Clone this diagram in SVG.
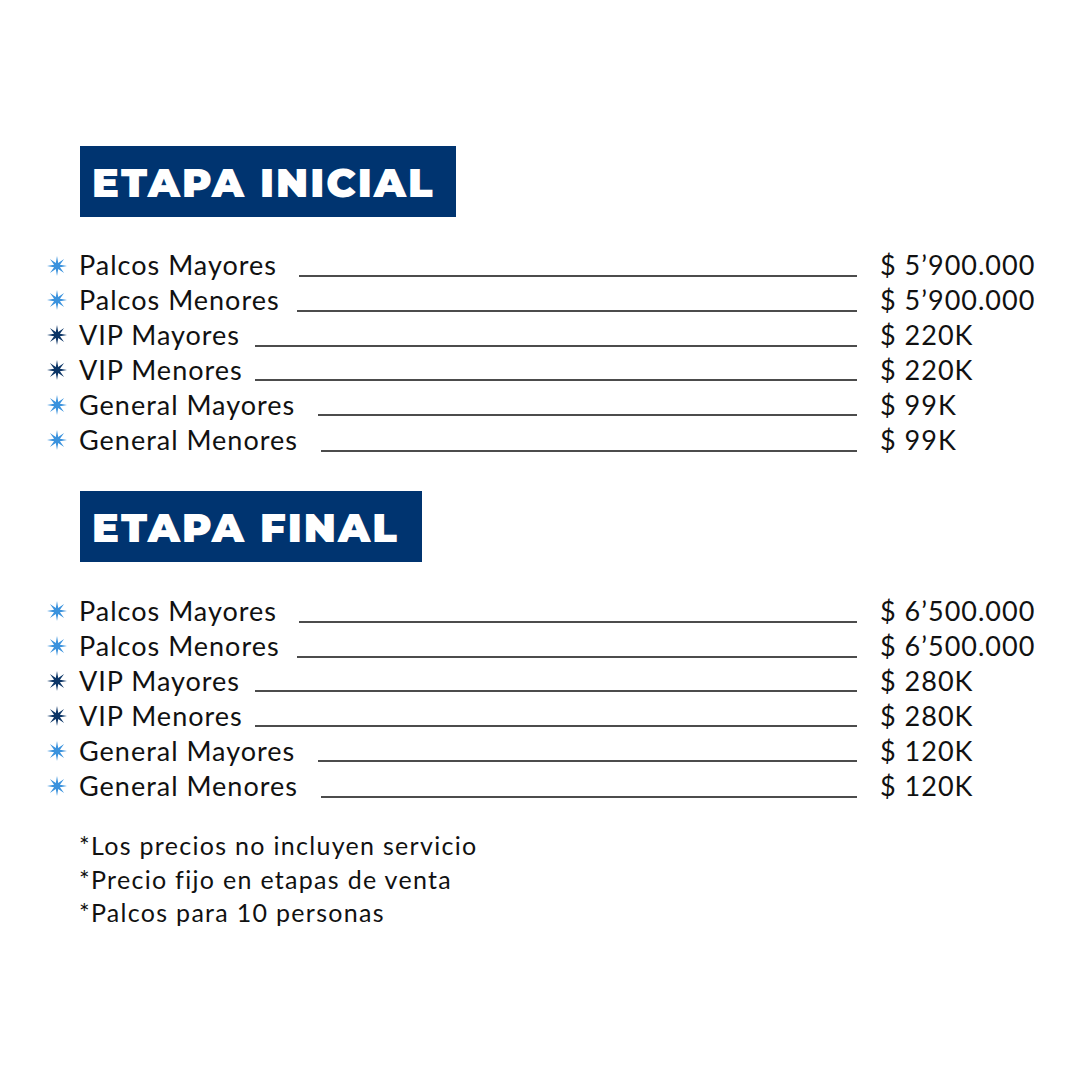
<svg xmlns="http://www.w3.org/2000/svg" xmlns:xlink="http://www.w3.org/1999/xlink" width="1080" height="1080" viewBox="0 0 1080 1080">
<style>
.t{font-family:"Lato","Liberation Sans",sans-serif;font-size:27px;letter-spacing:1px;fill:#111}
.h{font-family:"Montserrat","Lato","Liberation Sans",sans-serif;font-weight:900;font-size:40px;letter-spacing:2px;fill:#fff}
.n{font-family:"Lato","Liberation Sans",sans-serif;font-size:25px;letter-spacing:1.3px;fill:#111}
.l{stroke:#111;stroke-width:1.3}
.lb{fill:#3a92dd}.db{fill:#0c3566}
</style>
<defs>
<polygon id="s" points="0,-10 1.2,-2.9 7.1,-7.1 2.9,-1.2 10,0 2.9,1.2 7.1,7.1 1.2,2.9 0,10 -1.2,2.9 -7.1,7.1 -2.9,1.2 -10,0 -2.9,-1.2 -7.1,-7.1 -1.2,-2.9"/>
</defs>
<rect width="1080" height="1080" fill="#fff"/>
<g id="h1"><rect x="80" y="146" width="376" height="71" fill="#003470"/><text class="h" x="92" y="197">ETAPA INICIAL</text></g>
<g id="h2"><rect x="80" y="491" width="342" height="71" fill="#003470"/><text class="h" x="92" y="542">ETAPA FINAL</text></g>
<g id="rows1">
<use href="#s" x="57" y="266" class="lb"/><text class="t" x="79" y="275">Palcos Mayores</text><line class="l" x1="299" y1="276" x2="857" y2="276"/><text class="t" x="880" y="275">$ 5’900.000</text>
<use href="#s" x="57" y="300" class="lb"/><text class="t" x="79" y="310">Palcos Menores</text><line class="l" x1="297" y1="311" x2="857" y2="311"/><text class="t" x="880" y="310">$ 5’900.000</text>
<use href="#s" x="57" y="335" class="db"/><text class="t" x="79" y="345">VIP Mayores</text><line class="l" x1="255" y1="346" x2="857" y2="346"/><text class="t" x="880" y="345">$ 220K</text>
<use href="#s" x="57" y="370" class="db"/><text class="t" x="79" y="380">VIP Menores</text><line class="l" x1="255" y1="380" x2="857" y2="380"/><text class="t" x="880" y="380">$ 220K</text>
<use href="#s" x="57" y="405" class="lb"/><text class="t" x="79" y="415">General Mayores</text><line class="l" x1="318" y1="415" x2="857" y2="415"/><text class="t" x="880" y="415">$ 99K</text>
<use href="#s" x="57" y="440" class="lb"/><text class="t" x="79" y="450">General Menores</text><line class="l" x1="321" y1="451" x2="857" y2="451"/><text class="t" x="880" y="450">$ 99K</text>
</g>
<g id="rows2">
<use href="#s" x="57" y="611" class="lb"/><text class="t" x="79" y="621">Palcos Mayores</text><line class="l" x1="299" y1="622" x2="857" y2="622"/><text class="t" x="880" y="621">$ 6’500.000</text>
<use href="#s" x="57" y="646" class="lb"/><text class="t" x="79" y="656">Palcos Menores</text><line class="l" x1="297" y1="657" x2="857" y2="657"/><text class="t" x="880" y="656">$ 6’500.000</text>
<use href="#s" x="57" y="681" class="db"/><text class="t" x="79" y="691">VIP Mayores</text><line class="l" x1="255" y1="691" x2="857" y2="691"/><text class="t" x="880" y="691">$ 280K</text>
<use href="#s" x="57" y="716" class="db"/><text class="t" x="79" y="726">VIP Menores</text><line class="l" x1="255" y1="726" x2="857" y2="726"/><text class="t" x="880" y="726">$ 280K</text>
<use href="#s" x="57" y="751" class="lb"/><text class="t" x="79" y="761">General Mayores</text><line class="l" x1="318" y1="761" x2="857" y2="761"/><text class="t" x="880" y="761">$ 120K</text>
<use href="#s" x="57" y="786" class="lb"/><text class="t" x="79" y="796">General Menores</text><line class="l" x1="321" y1="797" x2="857" y2="797"/><text class="t" x="880" y="796">$ 120K</text>
</g>
<g id="notes">
<text class="n" x="79" y="855">*Los precios no incluyen servicio</text>
<text class="n" x="79" y="889">*Precio fijo en etapas de venta</text>
<text class="n" x="79" y="922">*Palcos para 10 personas</text>
</g>
</svg>
